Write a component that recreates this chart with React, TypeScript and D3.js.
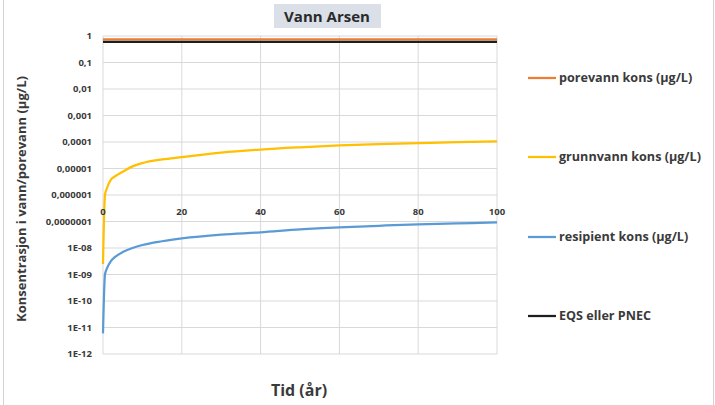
import React from "react";
import * as d3 from "d3";

// Time in years
const years = [0, 0.5, 1, 2, 3, 5, 7.5, 10, 15, 20, 30, 40, 50, 60, 70, 80, 90, 100];
// Concentrations (µg/L)
const porevann = [0.75, 0.75, 0.75, 0.75, 0.75, 0.75, 0.75, 0.75, 0.75, 0.75, 0.75, 0.75, 0.75, 0.75, 0.75, 0.75, 0.75, 0.75];
const grunnvann = [2.5e-9, 1.0e-6, 1.8e-6, 3.8e-6, 5.0e-6, 7.5e-6, 1.2e-5, 1.6e-5, 2.2e-5, 2.7e-5, 4.0e-5, 5.2e-5, 6.3e-5, 7.4e-5, 8.3e-5, 9.1e-5, 9.9e-5, 1.05e-4];
const resipient = [6e-12, 1.0e-9, 1.7e-9, 3.2e-9, 4.5e-9, 7e-9, 1.0e-8, 1.3e-8, 1.8e-8, 2.3e-8, 3.2e-8, 3.9e-8, 5.0e-8, 6.0e-8, 6.9e-8, 7.8e-8, 8.5e-8, 9.2e-8];
const eqs = [0.6, 0.6, 0.6, 0.6, 0.6, 0.6, 0.6, 0.6, 0.6, 0.6, 0.6, 0.6, 0.6, 0.6, 0.6, 0.6, 0.6, 0.6];

const xTicks = [0, 20, 40, 60, 80, 100];
const yTicks = [1, 1e-1, 1e-2, 1e-3, 1e-4, 1e-5, 1e-6, 1e-7, 1e-8, 1e-9, 1e-10, 1e-11, 1e-12];
const yTickLabels = ["1", "0,1", "0,01", "0,001", "0,0001", "0,00001", "0,000001", "0,0000001", "1E-08", "1E-09", "1E-10", "1E-11", "1E-12"];

const seriesNames = ["porevann kons (µg/L)", "grunnvann kons (µg/L)", "resipient kons (µg/L)", "EQS eller PNEC"];
const seriesColors = ["#ed7d31", "#ffc000", "#5b9bd5", "#1e1e1e"];

const W = 715;
const H = 405;
const font = "'Open Sans', 'DejaVu Sans', sans-serif";
const textColor = "#3a3a3a";

export default function App() {
  const x = d3.scaleLinear().domain([0, 100]).range([103, 497]);
  const y = d3.scaleLog().domain([1e-12, 1]).range([354, 36]);

  const line = d3
    .line<[number, number]>()
    .x((d) => x(d[0]))
    .y((d) => y(d[1]))
    .curve(d3.curveMonotoneX);

  const allSeries = [porevann, grunnvann, resipient, eqs];
  // draw order: groundwater, recipient, porewater, EQS on top
  const drawOrder = [1, 2, 0, 3];

  const legendY = [78, 157, 237, 316];

  return (
    <svg
      width={W}
      height={H}
      style={{ position: "absolute", left: 0, top: 0, background: "#fff" }}
      fontFamily={font}
    >
      <rect x={0} y={0} width={W} height={H} fill="#fff" />
      <rect x={3.5} y={-2} width={710} height={H + 4} fill="none" stroke="#d4d4d4" />

      {/* title */}
      <rect x={274} y={4} width={107} height={24} fill="#dadfe8" />
      <text x={327} y={22} textAnchor="middle" fontSize={15} fontWeight={700} fill="#2a2a2a">
        Vann Arsen
      </text>

      {/* gridlines */}
      {yTicks.map((t) => (
        <line key={"gy" + t} x1={x(0)} x2={x(100)} y1={y(t)} y2={y(t)} stroke="#d9d9d9" strokeWidth={1} />
      ))}
      {xTicks.map((t) => (
        <line key={"gx" + t} x1={x(t)} x2={x(t)} y1={y(1)} y2={y(1e-12)} stroke="#d9d9d9" strokeWidth={1} />
      ))}

      {/* series */}
      {drawOrder.map((i) => (
        <path
          key={"s" + i}
          d={line(years.map((t, k) => [t, allSeries[i][k]] as [number, number])) || ""}
          fill="none"
          stroke={seriesColors[i]}
          strokeWidth={2.25}
          strokeLinejoin="round"
        />
      ))}

      {/* y tick labels */}
      {yTicks.map((t, i) => (
        <text
          key={"yl" + t}
          x={92}
          y={y(t)}
          dy="0.35em"
          textAnchor="end"
          fontSize={9.5}
          fontWeight={700}
          fill={textColor}
        >
          {yTickLabels[i]}
        </text>
      ))}

      {/* x tick labels, axis crosses at 1E-06 */}
      {xTicks.map((t) => (
        <text
          key={"xl" + t}
          x={x(t)}
          y={y(1e-6) + 17}
          dy="0.35em"
          textAnchor="middle"
          fontSize={9.5}
          fontWeight={700}
          fill={textColor}
        >
          {t}
        </text>
      ))}

      {/* axis titles */}
      <text
        transform={`translate(26, 199) rotate(-90)`}
        textAnchor="middle"
        fontSize={13}
        fontWeight={700}
        fill={textColor}
      >
        Konsentrasjon i vann/porevann (µg/L)
      </text>
      <text x={299} y={396} textAnchor="middle" fontSize={16} fontWeight={700} fill={textColor}>
        Tid (år)
      </text>

      {/* legend */}
      {seriesNames.map((name, i) => (
        <g key={"lg" + i}>
          <line x1={528} x2={556} y1={legendY[i]} y2={legendY[i]} stroke={seriesColors[i]} strokeWidth={2.25} />
          <text x={559} y={legendY[i]} dy="0.35em" fontSize={12.6} fontWeight={700} fill={textColor}>
            {name}
          </text>
        </g>
      ))}
    </svg>
  );
}
